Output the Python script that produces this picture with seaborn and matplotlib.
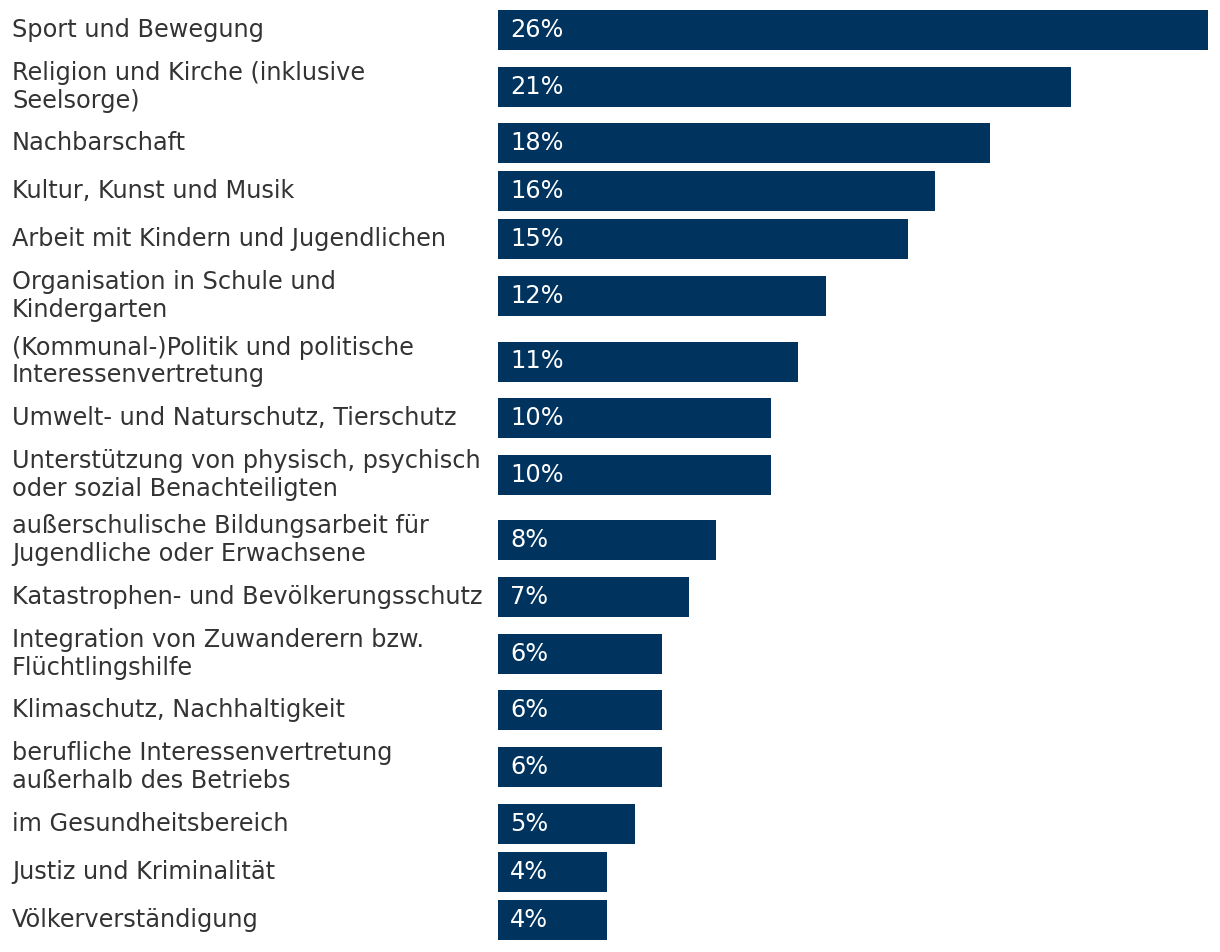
import numpy as np
import pandas as pd
import seaborn as sns
import matplotlib.pyplot as plt
from matplotlib import transforms

categories = [
    "Sport und Bewegung",
    "Religion und Kirche (inklusive\nSeelsorge)",
    "Nachbarschaft",
    "Kultur, Kunst und Musik",
    "Arbeit mit Kindern und Jugendlichen",
    "Organisation in Schule und\nKindergarten",
    "(Kommunal-)Politik und politische\nInteressenvertretung",
    "Umwelt- und Naturschutz, Tierschutz",
    "Unterstützung von physisch, psychisch\noder sozial Benachteiligten",
    "außerschulische Bildungsarbeit für\nJugendliche oder Erwachsene",
    "Katastrophen- und Bevölkerungsschutz",
    "Integration von Zuwanderern bzw.\nFlüchtlingshilfe",
    "Klimaschutz, Nachhaltigkeit",
    "berufliche Interessenvertretung\naußerhalb des Betriebs",
    "im Gesundheitsbereich",
    "Justiz und Kriminalität",
    "Völkerverständigung",
]
values = [26, 21, 18, 16, 15, 12, 11, 10, 10, 8, 7, 6, 6, 6, 5, 4, 4]

BAR_COLOR = "#00335e"
TEXT_COLOR = "#333333"

# row height depends on the number of label lines (1 line -> 48 px, 2 lines -> ~65 px)
row_h = np.array([48 if c.count("\n") == 0 else 65.4 for c in categories], dtype=float)
tops = 6 + np.concatenate([[0], np.cumsum(row_h)[:-1]])
centers = tops + row_h / 2

df = pd.DataFrame({"category": categories, "value": values, "pos": centers})

sns.set_theme(style="white")
plt.rcParams["font.family"] = ["DejaVu Sans"]

fig = plt.figure(figsize=(12.2, 9.52), dpi=100)
ax = fig.add_axes([498 / 1220, 0, (1208 - 498) / 1220, 1])

sns.barplot(data=df, x="value", y="pos", orient="h", native_scale=True,
            color=BAR_COLOR, saturation=1, width=40 / 48, linewidth=0, ax=ax)

ax.set_xlim(0, max(values))
ax.set_ylim(952, 0)
ax.set_axis_off()

lab_tr = transforms.blended_transform_factory(fig.transFigure, ax.transData)
for c, v, y in zip(categories, values, centers):
    ax.text(12 / 1220, y, c, transform=lab_tr, ha="left", va="center",
            fontsize=17.3, color=TEXT_COLOR, linespacing=1.2)
    ax.text(0.45, y, f"{v}%", ha="left", va="center", fontsize=17.3, color="white")

fig.savefig("out.png", dpi=100, facecolor="white")
